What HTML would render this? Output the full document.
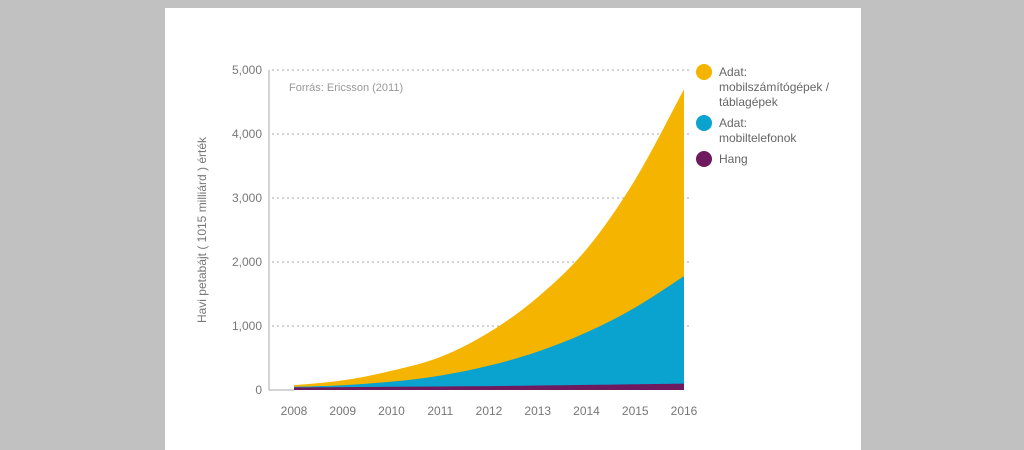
<!DOCTYPE html>
<html><head><meta charset="utf-8"><style>
body{margin:0;width:1024px;height:450px;background:#c1c1c1;overflow:hidden;font-family:"Liberation Sans",sans-serif}
#panel{position:absolute;left:165px;top:8px;width:696px;height:442px;background:#fff}
svg{position:absolute;left:0;top:0}
</style></head><body>
<div id="panel"></div>
<svg id="c" width="1024" height="450"></svg>
<script>
const years=[2008,2009,2010,2011,2012,2013,2014,2015,2016];
const voice=[40,45,50,55,60,70,80,90,100];
const phones=[10,30,80,170,320,530,820,1200,1680];
const tablets=[25,75,170,290,520,850,1300,2000,2920];
const yTicks=[0,1000,2000,3000,4000,5000];
const yTickLabels=["0","1,000","2,000","3,000","4,000","5,000"];
const legendLabels=[["Adat:","mobilszámítógépek /","táblagépek"],["Adat:","mobiltelefonok"],["Hang"]];
const colors=["#f5b400","#0aa3d0","#6e1a5e"];
const NS="http://www.w3.org/2000/svg";
const svg=document.getElementById('c');
const X=y=>294+(y-2008)*48.75;
const Y=v=>390-v*0.064;
function mk(t,a,p){const e=document.createElementNS(NS,t);for(const k in a)e.setAttribute(k,a[k]);(p||svg).appendChild(e);return e;}
// grid
yTicks.forEach((t,i)=>{
 if(t>0){const g=mk('line',{x1:272,x2:690,y1:Y(t),y2:Y(t),stroke:'#aaa','stroke-dasharray':'2,3'});
 
 }
 const l=mk('text',{x:262,y:Y(t)+4,'text-anchor':'end','font-size':12,fill:'#777'});l.textContent=yTickLabels[i];
 
 
});
const ax=mk('line',{x1:269,x2:269,y1:Y(5000),y2:Y(0),stroke:'#aaa'});


const bx=mk('line',{x1:269,x2:294,y1:Y(0),y2:Y(0),stroke:'#aaa'});


// stacks
const s1=voice, s2=voice.map((v,i)=>v+phones[i]), s3=s2.map((v,i)=>v+tablets[i]);
function smooth(pts){let d='';for(let i=0;i<pts.length-1;i++){const p0=pts[Math.max(0,i-1)],p1=pts[i],p2=pts[i+1],p3=pts[Math.min(pts.length-1,i+2)];
 const c1=[p1[0]+(p2[0]-p0[0])/6,p1[1]+(p2[1]-p0[1])/6],c2=[p2[0]-(p3[0]-p1[0])/6,p2[1]-(p3[1]-p1[1])/6];
 d+=` C${c1[0]},${c1[1]} ${c2[0]},${c2[1]} ${p2[0]},${p2[1]}`;}return d;}
function area(top,name,col){const pts=years.map((y,i)=>[X(y),Y(top[i])]);
 const d=`M${X(2008)},${Y(0)} L${pts[0][0]},${pts[0][1]}`+smooth(pts)+` L${X(2016)},${Y(0)} Z`;
 const p=mk('path',{d:d,fill:col});
 
 }
area(s3,'area-tablets',colors[0]);area(s2,'area-phones',colors[1]);area(s1,'area-voice',colors[2]);
years.forEach(y=>{const t=mk('text',{x:X(y),y:415,'text-anchor':'middle','font-size':12,fill:'#777'});t.textContent=y;
 
 });
const yt=mk('text',{transform:'translate(206,230) rotate(-90)','text-anchor':'middle','font-size':12,fill:'#777'});
yt.textContent='Havi petabájt ( 1015 milliárd ) érték';


const src=mk('text',{x:289,y:91,'font-size':11,fill:'#999'});src.textContent='Forrás: Ericsson (2011)';


const ly=[72,123,159];
legendLabels.forEach((ls,i)=>{const g=mk('g',{});
 
 
 mk('circle',{cx:704,cy:ly[i],r:8,fill:colors[i]},g);
 ls.forEach((s,j)=>{const t=mk('text',{x:719,y:ly[i]+4+j*15,'font-size':12,fill:'#666'},g);t.textContent=s;});});
</script>
</body></html>
